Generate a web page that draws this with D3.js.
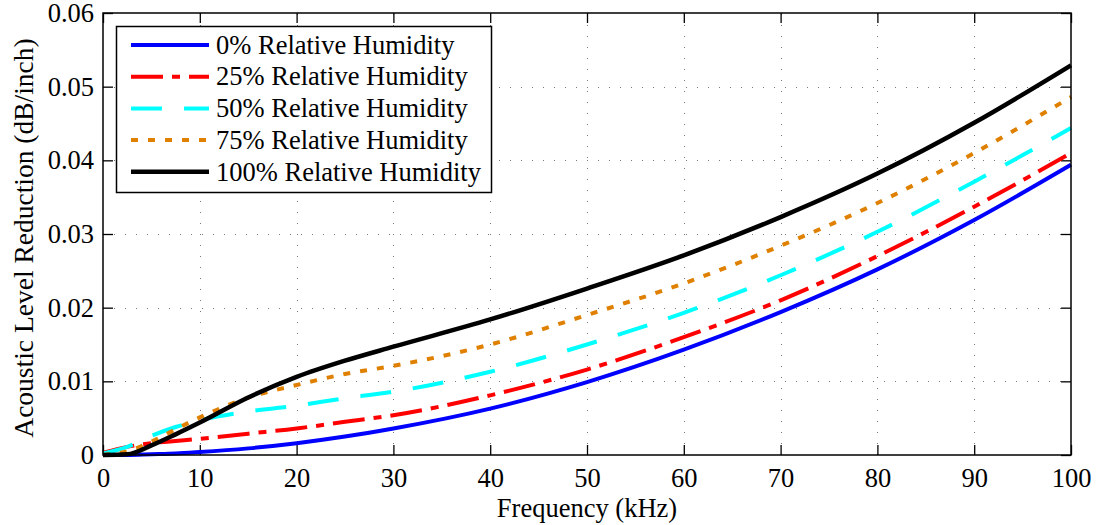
<!DOCTYPE html>
<html lang="en">
    <head>
        <meta charset="utf-8">
        <title>Acoustic Level Reduction</title>
        <script type="text/javascript" src="https://d3js.org/d3.v7.min.js"></script>
        <style type="text/css">
            body { margin: 0; background: #fff; }
        </style>
    </head>
    <body>
        <script type="text/javascript">

            // frequency samples (kHz)
            const freq = [0, 2.5, 5, 7.5, 10, 15, 20, 25, 30, 40, 50, 60, 70, 80, 90, 100];

            // readings per humidity (dB/inch)
            const rh0   = [0, 0, 0.0001, 0.0002, 0.0004, 0.0009, 0.0016, 0.0025, 0.0036, 0.0063, 0.0099, 0.0143, 0.0194, 0.0252, 0.0319, 0.0394];
            const rh25  = [0.0003, 0.0011, 0.0016, 0.0019, 0.0022, 0.0029, 0.0036, 0.0045, 0.0054, 0.0081, 0.0116, 0.0160, 0.0210, 0.0270, 0.0337, 0.0410];
            const rh50  = [0.0002, 0.0011, 0.0026, 0.0038, 0.0047, 0.0059, 0.0067, 0.0077, 0.0086, 0.0113, 0.0150, 0.0193, 0.0244, 0.0303, 0.0371, 0.0444];
            const rh75  = [0, 0.0005, 0.0018, 0.0035, 0.0051, 0.0078, 0.0095, 0.0110, 0.0121, 0.0150, 0.0190, 0.0233, 0.0284, 0.0342, 0.0410, 0.0486];
            const rh100 = [0, 0.0001, 0.0013, 0.0028, 0.0044, 0.0078, 0.0106, 0.0128, 0.0147, 0.0184, 0.0226, 0.0271, 0.0323, 0.0382, 0.0451, 0.0529];

            const seriesNames = ["0% Relative Humidity", "25% Relative Humidity", "50% Relative Humidity",
                                 "75% Relative Humidity", "100% Relative Humidity"];
            const xTicks = [0, 10, 20, 30, 40, 50, 60, 70, 80, 90, 100];
            const yTicks = [0, 0.01, 0.02, 0.03, 0.04, 0.05, 0.06];

            const colors = ["#0000ff", "#ff0000", "#00ffff", "#df8000", "#000000"];
            const dashes = [null, "32,9,8,9", "31,22", "7,10", null];
            const widths = [4, 4, 4, 4, 4.5];

            const serif = "'Liberation Serif', 'Times New Roman', Times, 'DejaVu Serif', serif";
            const fs = 26.5;

            const width = 1096, height = 525;
            const pLeft = 103, pRight = 1071, pTop = 13, pBottom = 455;

            const xScale = d3.scaleLinear().domain([0, 100]).range([pLeft, pRight]);
            const yScale = d3.scaleLinear().domain([0, 0.06]).range([pBottom, pTop]);

            const svg = d3.select("body").append("svg")
                          .attr("width", width)
                          .attr("height", height);

            // grid
            const grid = svg.append("g").attr("stroke", "#777").attr("stroke-width", 1)
                            .attr("stroke-dasharray", "1,10");
            grid.selectAll(".gx").data(xTicks.slice(1, -1)).enter().append("line")
                .attr("x1", d => Math.round(xScale(d)) + 0.5).attr("x2", d => Math.round(xScale(d)) + 0.5)
                .attr("y1", pBottom).attr("y2", pTop);
            grid.selectAll(".gy").data(yTicks.slice(1, -1)).enter().append("line")
                .attr("y1", d => Math.round(yScale(d)) + 0.5).attr("y2", d => Math.round(yScale(d)) + 0.5)
                .attr("x1", pLeft).attr("x2", pRight);

            // axes with inward ticks on all four sides
            const fmtY = d => d === 0 ? "0" : d3.format(".2f")(d);
            const axB = d3.axisBottom(xScale).tickValues(xTicks).tickSizeInner(-10).tickSizeOuter(0).tickPadding(13);
            const axT = d3.axisTop(xScale).tickValues(xTicks).tickSizeInner(-10).tickSizeOuter(0).tickFormat("");
            const axL = d3.axisLeft(yScale).tickValues(yTicks).tickSizeInner(-10).tickSizeOuter(0).tickPadding(9).tickFormat(fmtY);
            const axR = d3.axisRight(yScale).tickValues(yTicks).tickSizeInner(-10).tickSizeOuter(0).tickFormat("");

            [[axB, `translate(0,${pBottom})`], [axT, `translate(0,${pTop})`],
             [axL, `translate(${pLeft},0)`], [axR, `translate(${pRight},0)`]].forEach(([ax, tr]) => {
                const g = svg.append("g").attr("transform", tr).call(ax);
                g.attr("font-family", serif).attr("font-size", fs);
                g.select(".domain").remove();
                g.selectAll("line").attr("stroke", "#000").attr("stroke-width", 1.3);
                g.selectAll("text").attr("fill", "#000");
            });

            // lines
            const lineGen = d3.line()
                              .x(d => xScale(d[0]))
                              .y(d => yScale(d[1]))
                              .curve(d3.curveMonotoneX);
            const allSeries = [rh0, rh25, rh50, rh75, rh100];

            const plot = svg.append("g");
            allSeries.forEach((vals, i) => {
                plot.append("path")
                    .datum(freq.map((f, j) => [f, vals[j]]))
                    .attr("d", lineGen)
                    .attr("fill", "none")
                    .attr("stroke", colors[i])
                    .attr("stroke-width", widths[i])
                    .attr("stroke-dasharray", dashes[i]);
            });

            // frame
            svg.append("rect")
               .attr("x", pLeft).attr("y", pTop)
               .attr("width", pRight - pLeft).attr("height", pBottom - pTop)
               .attr("fill", "none").attr("stroke", "#000").attr("stroke-width", 1.5);

            // legend
            const legend = svg.append("g").attr("font-family", serif).attr("font-size", fs);
            legend.append("rect")
                  .attr("x", 116.5).attr("y", 26.5).attr("width", 375).attr("height", 166)
                  .attr("fill", "#fff").attr("stroke", "#000").attr("stroke-width", 1.5);
            seriesNames.forEach((name, i) => {
                const y = 45 + i * 31.7;
                legend.append("line")
                      .attr("x1", 131).attr("x2", 209).attr("y1", y).attr("y2", y)
                      .attr("stroke", colors[i]).attr("stroke-width", widths[i])
                      .attr("stroke-dasharray", dashes[i]);
                legend.append("text")
                      .attr("x", 216).attr("y", y).attr("dy", "0.33em")
                      .text(name);
            });

            // axis titles
            svg.append("text")
               .attr("x", (pLeft + pRight) / 2).attr("y", 517)
               .attr("text-anchor", "middle")
               .attr("font-family", serif).attr("font-size", fs)
               .text("Frequency (kHz)");
            svg.append("text")
               .attr("transform", `translate(33,238) rotate(-90)`)
               .attr("text-anchor", "middle")
               .attr("font-family", serif).attr("font-size", 27.5)
               .text("Acoustic Level Reduction (dB/inch)");

        </script>
    </body>
</html>
